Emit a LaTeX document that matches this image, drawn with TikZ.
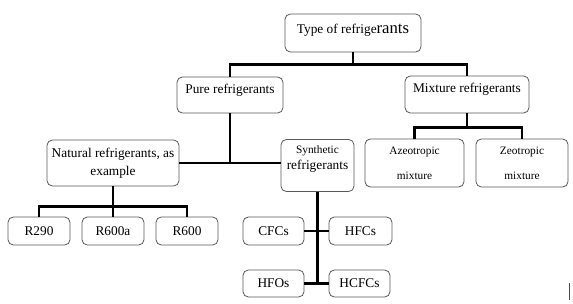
\documentclass[tikz,border=0pt]{standalone}
\usepackage{fontspec}
\setmainfont{Liberation Serif}
\usetikzlibrary{positioning,calc}

\begin{document}
\begin{tikzpicture}[
		x=0.75pt, y=-0.75pt,
		box/.style={draw=black!65, line width=0.6pt, rectangle, rounded corners=4pt, inner sep=2pt, align=center, font=\fontsize{10}{13.5}\selectfont},
		raised/.style={text height=7pt, text depth=10pt},
		small/.style={font=\fontsize{8.5}{19}\selectfont},
		leaf/.style={box, minimum height=21pt},
		line/.style={line width=2.2pt}
		]
		\useasboundingbox (0,0) rectangle (573,303);
		
		% ======================
		% TOP
		% ======================
		\node[box, minimum width=102pt, minimum height=28.5pt, text height=7pt, text depth=6pt] (type) at (353,33) {Type of refrige{\fontsize{12.5}{14}\selectfont rants}};
		
		\node[box, raised, minimum width=79.5pt, minimum height=27pt] (pure) at (230,95) {Pure refrigerants};
		
		\node[box, raised, minimum width=93pt, minimum height=27.75pt] (mixture) at (467,94.5) {Mixture refrigerants};
		
		% ======================
		% PURE SIDE
		% ======================
		\node[box, minimum width=99pt, minimum height=34.5pt] (natural) at (113,163) {Natural refrigerants, as\\example};
		
		\node[box, font=\fontsize{10}{12.5}\selectfont, text depth=12pt, minimum width=54.75pt, minimum height=39pt] (synthetic) at (317.5,165.5) {{\fontsize{8.5}{10}\selectfont Synthetic}\\refrigerants};
		
		\node[leaf, minimum width=46.5pt] (r290) at (39,231) {R290};
		\node[leaf, minimum width=46.5pt] (r600a) at (113,231) {R600a};
		\node[leaf, minimum width=46.5pt] (r600) at (187,231) {R600};
		
		\node[leaf, minimum width=45.75pt] (cfcs) at (273.5,231) {CFCs};
		\node[leaf, minimum width=47.25pt] (hfcs) at (360.5,231) {HFCs};
		\node[leaf, minimum width=45.75pt, minimum height=20.25pt] (hfos) at (273.5,283.5) {HFOs};
		\node[leaf, minimum width=45.75pt, minimum height=20.25pt] (hcfcs) at (359.5,283.5) {HCFCs};
		
		% ======================
		% MIXTURE SIDE
		% ======================
		\node[box, small, minimum width=74.25pt, minimum height=36pt] (azeo) at (414.5,163) {Azeotropic\\mixture};
		\node[box, small, minimum width=69pt, minimum height=36pt] (zeo) at (522,163) {Zeotropic\\mixture};
		
		% ======================
		% CONNECTIONS
		% ======================
		\draw[line] (type.south) -- ++(0,12) -| (pure.north);
		\draw[line] (type.south) -- ++(0,12) -| (mixture.north);
		
		\draw[line] (pure.south) -- (pure.south |- natural.east);
		\draw[line] (natural.east) -- (synthetic.west |- natural.east);
		
		\draw[line] (mixture.south) -- ++(0,14) -| (azeo.north);
		\draw[line] (mixture.south) -- ++(0,14) -| (zeo.north);
		
		\draw[line] (natural.south) -- ++(0,20) -| (r290.north);
		\draw[line] (natural.south) -- ++(0,20) -| (r600.north);
		\draw[line] (natural.south) -- (r600a.north);
		
		\coordinate (trunk) at (synthetic.south |- hfos.east);
		\draw[line] (synthetic.south) -- (trunk);
		\draw[line] (cfcs.east) -- (hfcs.west);
		\draw[line] (hfos.east) -- (hcfcs.west);
		
		% cursor mark
		\draw[black!70, line width=0.6pt] (569,283) -- (569,300);
		
	\end{tikzpicture}
\end{document}
